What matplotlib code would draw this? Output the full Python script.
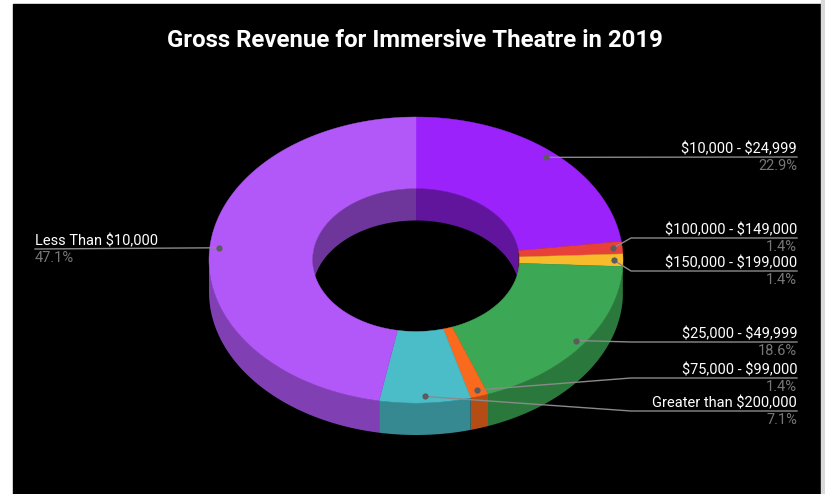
import numpy as np
import matplotlib.pyplot as plt
from matplotlib.patches import Polygon, Rectangle

plt.rcParams['font.family'] = ['Roboto', 'DejaVu Sans']
plt.rcParams['text.parse_math'] = False

# revenue brackets, clockwise from 12 o'clock
labels = ['$10,000 - $24,999', '$100,000 - $149,000', '$150,000 - $199,000',
          '$25,000 - $49,999', '$75,000 - $99,000', 'Greater than $200,000',
          'Less Than $10,000']
shares = [22.9, 1.4, 1.4, 18.6, 1.4, 7.1, 47.1]
colors = ['#9b22fb', '#e8413a', '#f8bb2c', '#3ca754', '#fa6a1e', '#4bbdc9', '#b257f8']

W, H = 825, 494
cx, cy = 416, 260          # centre of top face
a, b = 207, 143            # outer radii of top face
hole = 0.5
depth = 32


def darker(c, f):
    c = np.array([int(c[i:i + 2], 16) for i in (1, 3, 5)]) / 255.0
    return tuple(c * f)


def pt(phi, r=1.0, dy=0.0):
    return cx + a * r * np.cos(phi), cy - b * r * np.sin(phi) + dy


fig = plt.figure(figsize=(W / 100, H / 100), dpi=100)
fig.patch.set_facecolor('white')
ax = fig.add_axes([0, 0, 1, 1])
ax.set_xlim(0, W)
ax.set_ylim(H, 0)
ax.axis('off')

# dark panel with a light strip on the right
ax.add_patch(Rectangle((13, 4), 808, 490, color='black', zorder=0))
ax.add_patch(Rectangle((821, 0), 4, H, color='#d9d9d9', zorder=0))

frac = np.array(shares) / sum(shares)
edges = np.concatenate([[0], np.cumsum(frac)])
# clockwise from top, in standard angle
starts = np.pi / 2 - 2 * np.pi * edges[:-1]
ends = np.pi / 2 - 2 * np.pi * edges[1:]

for s, e, col in zip(starts, ends, colors):
    phis = np.linspace(s, e, 200)
    # far half of the inner wall, seen through the hole
    back = phis[np.sin(phis) >= 0]
    if len(back) > 1:
        x0, y0 = pt(back, hole)
        x1, y1 = pt(back[::-1], hole, depth)
        ax.add_patch(Polygon(np.column_stack([np.r_[x0, x1], np.r_[y0, y1]]),
                             color=darker(col, 0.62), lw=0, zorder=1))
    # near half of the outer wall
    front = phis[np.sin(phis) <= 0]
    if len(front) > 1:
        x0, y0 = pt(front)
        x1, y1 = pt(front[::-1], 1.0, depth)
        ax.add_patch(Polygon(np.column_stack([np.r_[x0, x1], np.r_[y0, y1]]),
                             color=darker(col, 0.72), lw=0, zorder=2))

# top faces
for s, e, col in zip(starts, ends, colors):
    phis = np.linspace(s, e, 200)
    x0, y0 = pt(phis)
    x1, y1 = pt(phis[::-1], hole)
    ax.add_patch(Polygon(np.column_stack([np.r_[x0, x1], np.r_[y0, y1]]),
                         color=col, lw=0.3, ec=col, zorder=3))

# leader lines: label line y and bend x (None = straight)
line_y = [157, 238, 271, 342, 378, 411, 249]
bend_x = [None, 631, 631, 631, 631, 631, None]
mids = (starts + ends) / 2
text_x = 797
for i, lab in enumerate(labels):
    dx, dy = pt(mids[i], 0.955)
    ly = line_y[i]
    if lab.startswith('Less'):
        xs, ys = [35, dx], [ly, dy]
        tx, ha = 35, 'left'
    elif bend_x[i] is None:
        xs, ys = [dx, text_x], [dy, ly]
        tx, ha = text_x, 'right'
    else:
        xs, ys = [dx, bend_x[i], text_x], [dy, ly, ly]
        tx, ha = text_x, 'right'
    ax.plot(xs, ys, color='#8a8a8a', lw=1, zorder=4)
    ax.plot(dx, dy, 'o', ms=4.5, color='#5c5c5c', mec='none', zorder=5)
    ax.text(tx, ly - 4, lab, color='white', fontsize=10.5, ha=ha, va='baseline', zorder=6)
    ax.text(tx, ly + 13, f'{shares[i]}%', color='#777777', fontsize=10.5, ha=ha,
            va='baseline', zorder=6)

ax.text(414.5, 47, 'Gross Revenue for Immersive Theatre in 2019', color='white',
        fontsize=17.3, fontweight='bold', ha='center', va='baseline')

fig.savefig('out.png', dpi=100, facecolor=fig.get_facecolor())
